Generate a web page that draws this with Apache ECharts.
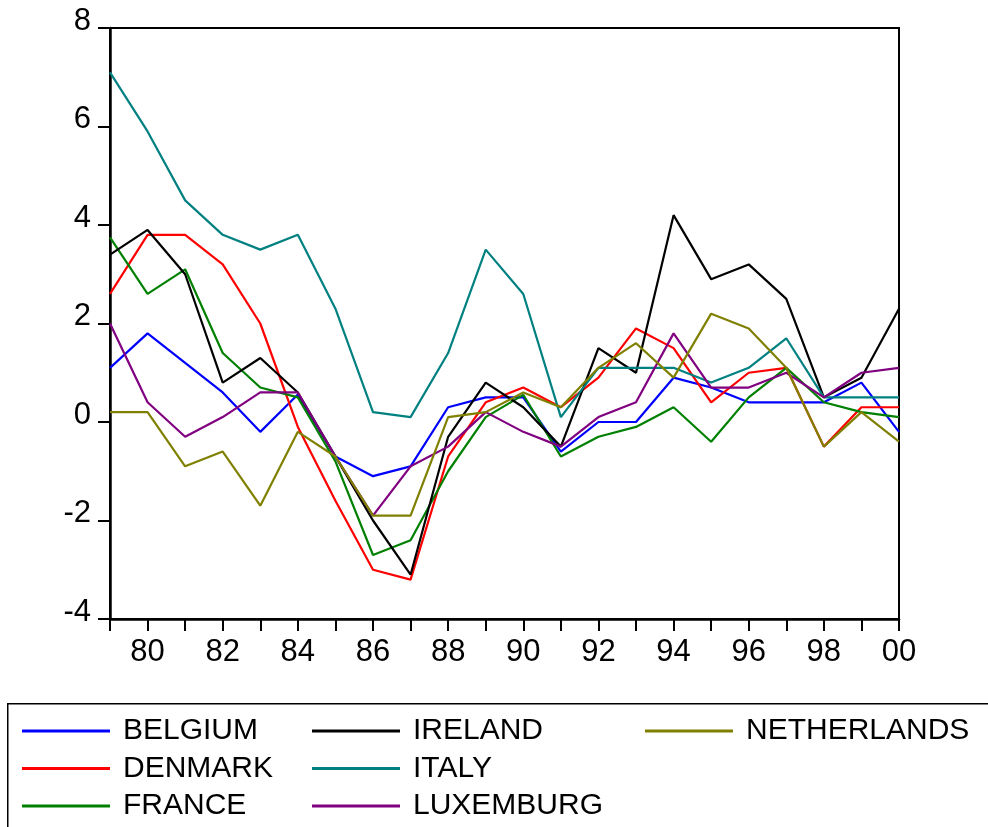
<!DOCTYPE html>
<html>
<head>
<meta charset="utf-8">
<script src="https://cdn.jsdelivr.net/npm/echarts@6/dist/echarts.min.js"></script>
<style>
html,body{margin:0;padding:0;background:#fff;}
#chart{width:988px;height:827px;}
</style>
</head>
<body>
<div id="chart"></div>
<script>
var years = ['1979','1980','1981','1982','1983','1984','1985','1986','1987','1988','1989','1990','1991','1992','1993','1994','1995','1996','1997','1998','1999','2000'];
var yTicks = [-4, -2, 0, 2, 4, 6, 8];

var belgium     = [1.1, 1.8, 1.2, 0.6, -0.2, 0.56, -0.7, -1.1, -0.9, 0.3, 0.5, 0.5, -0.6, 0.0, 0.0, 0.9, 0.7, 0.4, 0.4, 0.4, 0.8, -0.2];
var denmark     = [2.6, 3.8, 3.8, 3.2, 2.0, -0.1, -1.6, -3.0, -3.2, -0.7, 0.4, 0.7, 0.3, 0.9, 1.9, 1.5, 0.4, 1.0, 1.1, -0.5, 0.3, 0.3];
var france      = [3.75, 2.6, 3.1, 1.4, 0.7, 0.5, -0.8, -2.7, -2.4, -1.0, 0.1, 0.55, -0.7, -0.3, -0.1, 0.3, -0.4, 0.5, 1.1, 0.4, 0.2, 0.1];
var ireland     = [3.4, 3.9, 3.0, 0.8, 1.3, 0.6, -0.7, -2.0, -3.1, -0.3, 0.8, 0.3, -0.5, 1.5, 1.0, 4.2, 2.9, 3.2, 2.5, 0.5, 0.9, 2.3];
var italy       = [7.1, 5.9, 4.5, 3.8, 3.5, 3.8, 2.3, 0.2, 0.1, 1.4, 3.5, 2.6, 0.1, 1.1, 1.1, 1.1, 0.8, 1.1, 1.7, 0.5, 0.5, 0.5];
var luxemburg   = [2.0, 0.4, -0.3, 0.1, 0.6, 0.6, -0.7, -1.9, -0.9, -0.5, 0.2, -0.2, -0.5, 0.1, 0.4, 1.8, 0.7, 0.7, 1.0, 0.5, 1.0, 1.1];
var netherlands = [0.2, 0.2, -0.9, -0.6, -1.7, -0.2, -0.7, -1.9, -1.9, 0.1, 0.2, 0.6, 0.3, 1.1, 1.6, 0.9, 2.2, 1.9, 1.1, -0.5, 0.2, -0.4];

var names = ['BELGIUM','DENMARK','FRANCE','IRELAND','ITALY','LUXEMBURG','NETHERLANDS'];
var values = [belgium, denmark, france, ireland, italy, luxemburg, netherlands];
var colors = ['#0000ff','#ff0000','#008000','#000000','#008080','#800080','#808000'];

var FONT = "'Liberation Sans', Arial, sans-serif";

var series = names.map(function(n, i){
  return {
    name: n, type: 'line', data: values[i],
    symbol: 'none', showSymbol: false,
    lineStyle: {color: colors[i], width: 2.2},
    itemStyle: {color: colors[i]},
    animation: false
  };
});

function legendBlock(data, left){
  return {
    data: data, orient: 'vertical', left: left, top: 716, padding: 0,
    height: 120,
    icon: 'rect', itemWidth: 88, itemHeight: 3, itemGap: 7.5,
    textStyle: {fontFamily: FONT, fontSize: 30, color: '#000', lineHeight: 30, padding: [0,0,0,8]},
    selectedMode: false
  };
}

var chart = echarts.init(document.getElementById('chart'), null, {renderer: 'canvas'});
chart.setOption({
  animation: false,
  backgroundColor: '#fff',
  grid: {left: 110, right: 89, top: 28, bottom: 208, show: true, borderColor: '#000', borderWidth: 2, backgroundColor: 'transparent'},
  xAxis: {
    type: 'category', data: years, boundaryGap: false,
    axisLine: {onZero: false, lineStyle: {color: '#000', width: 2.5}},
    axisTick: {show: true, interval: 0, length: 12, inside: false, lineStyle: {color: '#000', width: 2}},
    axisLabel: {
      interval: function(idx){ return idx % 2 === 1; },
      formatter: function(v){ return v.slice(2); },
      fontFamily: FONT, fontSize: 31, color: '#000', margin: 18
    },
    splitLine: {show: false}
  },
  yAxis: {
    type: 'value', min: yTicks[0], max: yTicks[yTicks.length-1], interval: 2,
    axisLine: {show: true, onZero: false, lineStyle: {color: '#000', width: 2.5}},
    axisTick: {show: true, length: 12, inside: false, lineStyle: {color: '#000', width: 2}},
    axisLabel: {fontFamily: FONT, fontSize: 31, color: '#000', margin: 19, verticalAlign: 'bottom', lineHeight: 30, padding: [0,0,-8,0]},
    splitLine: {show: false}
  },
  legend: [
    legendBlock(['BELGIUM','DENMARK','FRANCE'], 22),
    legendBlock(['IRELAND','ITALY','LUXEMBURG'], 312),
    legendBlock(['NETHERLANDS'], 645)
  ],
  graphic: [{
    type: 'rect', left: 7, top: 703, z: -1,
    shape: {x: 0, y: 0, width: 1000, height: 200},
    style: {fill: '#fff', stroke: '#000', lineWidth: 1.5}
  }],
  series: series
});
</script>
</body>
</html>
